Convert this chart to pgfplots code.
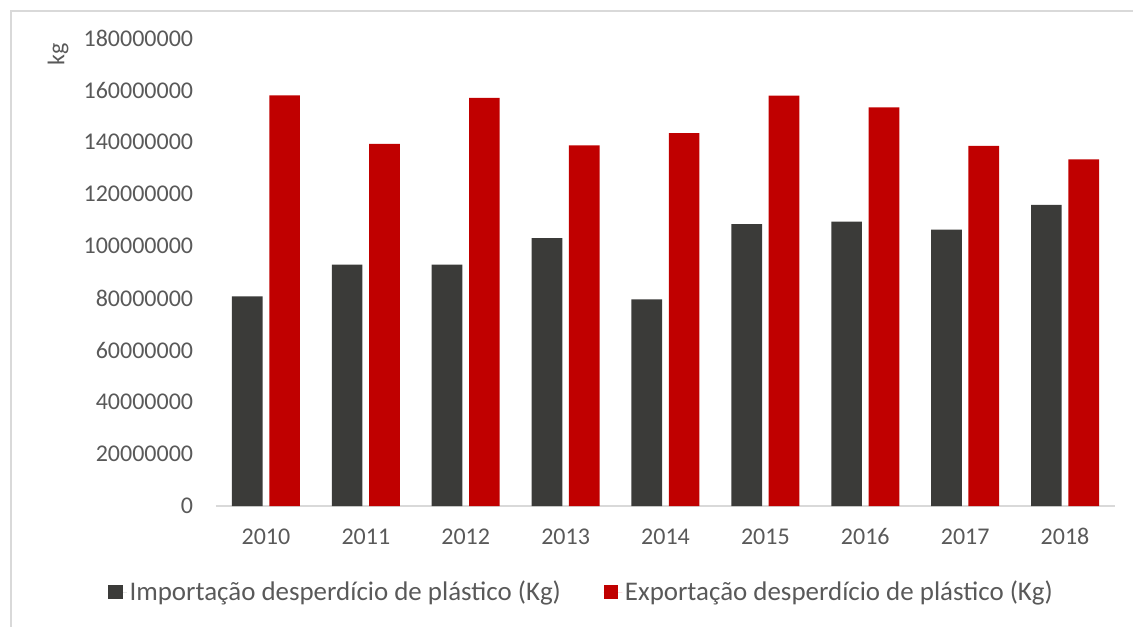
\documentclass[border=0pt]{standalone}
\usepackage{pgfplots}
\pgfplotsset{compat=1.18}
\usepackage{fontspec}
\setmainfont{Carlito}
\definecolor{imp}{HTML}{3B3B39}
\definecolor{expc}{HTML}{C00000}
\definecolor{txt}{HTML}{595959}
\definecolor{frm}{HTML}{D9D9D9}
\pgfplotsset{sqlegend/.style={legend image code/.code={\fill[##1] (0pt,-5.5pt) rectangle (11pt,5.5pt); \path (0pt,0pt) -- (14pt,0pt);}}}
\begin{document}
\begin{tikzpicture}
\useasboundingbox (0pt,0pt) rectangle (849.75pt,469.5pt);
\draw[frm, line width=0.9pt] (8.25pt,-5pt) rectangle (860pt,461.25pt);
\begin{axis}[
  at={(162pt,90pt)}, anchor=south west,
  scale only axis, width=674.25pt, height=351pt,
  ybar=5pt, bar width=23pt,
  xmin=-0.5, xmax=8.5, ymin=0, ymax=180000000,
  xtick={0,1,2,3,4,5,6,7,8},
  xticklabels={2010,2011,2012,2013,2014,2015,2016,2017,2018},
  ytick={0,20000000,40000000,60000000,80000000,100000000,120000000,140000000,160000000,180000000},
  yticklabels={0,20000000,40000000,60000000,80000000,100000000,120000000,140000000,160000000,180000000},
  scaled y ticks=false,
  axis x line*=bottom, axis y line*=left,
  y axis line style={draw=none},
  x axis line style={draw=frm, line width=1pt},
  major tick length=0pt,
  tick label style={font=\fontsize{18}{20}\selectfont, text=txt},
  xticklabel style={anchor=north, inner sep=0pt, text height=11.6pt, text depth=0pt},
  xticklabel shift=17pt,
  yticklabel style={anchor=east, inner sep=0pt},
  yticklabel shift=17pt,
  legend columns=2,
  legend style={at={(rel axis cs:0.407,-0.184)}, anchor=center, draw=none, fill=none,
    font=\fontsize{20.2}{23}\selectfont, text=txt,
    /tikz/every even column/.append style={column sep=30pt}},
]
\addplot[fill=imp, draw=none, sqlegend] coordinates {
(0,80600000) (1,92800000) (2,92800000) (3,103000000) (4,79500000)
(5,108400000) (6,109400000) (7,106300000) (8,115800000)};
\addplot[fill=expc, draw=none, sqlegend] coordinates {
(0,157900000) (1,139300000) (2,157000000) (3,138700000) (4,143400000)
(5,157800000) (6,153300000) (7,138500000) (8,133300000)};
\legend{Importação desperdício de plástico (Kg),Exportação desperdício de plástico (Kg)}
\end{axis}
\node[rotate=90, text=txt, font=\fontsize{18}{20}\selectfont, inner sep=0pt] at (43.5pt,429pt) {kg};
\end{tikzpicture}
\end{document}
